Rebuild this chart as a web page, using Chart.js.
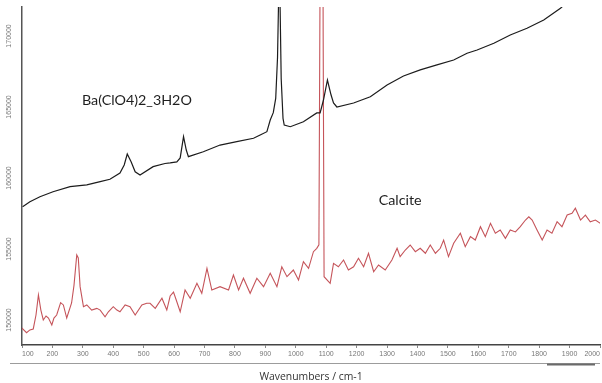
<!DOCTYPE html>
<html>
<head>
<meta charset="utf-8">
<script src="https://cdn.jsdelivr.net/npm/chart.js@4.4.1/dist/chart.umd.min.js"></script>
<style>
    html, body { margin: 0; padding: 0; background: #fff; }
    #wrap { width: 602px; height: 383px; }
</style>
</head>
<body>
<div id="wrap"><canvas id="ramanChart" width="602" height="383"></canvas></div>
<script>
// Ba(ClO4)2 . 3H2O spectrum
const baWave = [
    102, 126, 159, 202, 258, 313, 357, 389, 422, 436,
    446, 459, 472, 488, 531, 570, 587, 609, 620, 631,
    640, 647, 696, 751, 806, 861, 883, 905, 916, 926,
    934, 940, 946, 952, 958, 962, 982, 1025, 1069, 1080,
    1091, 1104, 1116, 1124, 1135, 1190, 1245, 1300, 1354, 1409,
    1464, 1519, 1563, 1596, 1651, 1705, 1760, 1815, 1870, 1919,
    2001
];
const baIntensity = [
    157980, 158330, 158680, 159030, 159390, 159510, 159740, 159910, 160350, 160920,
    161690, 161130, 160440, 160210, 160800, 161020, 161060, 161130, 161410, 162910,
    161970, 161500, 161850, 162320, 162560, 162800, 163030, 163260, 164080, 164600,
    165600, 168500, 175500, 167000, 164200, 163730, 163610, 163960, 164580, 164580,
    165490, 166900, 165840, 165280, 165000, 165280, 165720, 166550, 167180, 167610,
    167960, 168310, 168780, 169010, 169490, 170070, 170540, 171130, 171950, 172890,
    173940
];

// Calcite spectrum
const calWave = [
    99, 115, 126, 137, 146, 154, 162, 170, 179, 187,
    198, 205, 214, 227, 236, 247, 263, 271, 280, 285,
    291, 302, 313, 329, 346, 357, 373, 384, 400, 412,
    422, 439, 455, 472, 494, 510, 521, 538, 560, 576,
    587, 598, 607, 620, 636, 653, 675, 691, 708, 724,
    751, 779, 795, 812, 828, 850, 872, 894, 916, 938,
    954, 971, 992, 1009, 1025, 1042, 1058, 1069, 1076, 1080,
    1083, 1087, 1090, 1093, 1113, 1124, 1140, 1157, 1173, 1190,
    1206, 1223, 1239, 1256, 1272, 1294, 1316, 1333, 1343, 1360,
    1376, 1393, 1409, 1426, 1442, 1459, 1475, 1486, 1502, 1519,
    1541, 1557, 1574, 1590, 1607, 1623, 1640, 1656, 1672, 1689,
    1705, 1722, 1738, 1755, 1766, 1777, 1793, 1810, 1826, 1842,
    1859, 1875, 1892, 1908, 1919, 1936, 1952, 1968, 1985, 2001
];
const calIntensity = [
    149440, 149110, 149300, 149370, 150350, 151760, 150700, 150000, 150280, 150140,
    149650, 150140, 150350, 151220, 151060, 150140, 151200, 152460, 154580, 154370,
    152350, 150940, 151060, 150700, 150820, 150700, 150230, 150580, 150940, 150700,
    150580, 151060, 150940, 150350, 151060, 151180, 151180, 150820, 151530, 150700,
    151690, 151970, 151410, 150580, 152110, 151530, 152580, 151880, 153640, 152110,
    152350, 152110, 153170, 152110, 152940, 151880, 152940, 152350, 153290, 152350,
    153750, 153050, 153520, 152820, 154110, 153640, 154810, 155050, 155300, 175000,
    198000, 197000, 170000, 153050, 152580, 153990, 153750, 154230, 153520, 153750,
    154350, 153750, 154700, 153400, 153870, 153520, 154230, 155050, 154460, 154930,
    155280, 154810, 155050, 154700, 155280, 154700, 155050, 155630, 154460, 155400,
    156110, 155160, 155870, 155630, 156570, 155870, 156810, 156110, 156340, 155750,
    156340, 156200, 156570, 157040, 157270, 157040, 156340, 155630, 156340, 156110,
    156920, 156570, 157390, 157510, 157870, 157040, 157390, 156920, 157040, 156810
];

// Axis range and ticks
const xMin = 100, xMax = 2000;
const xTicks = [100, 200, 300, 400, 500, 600, 700, 800, 900, 1000,
    1100, 1200, 1300, 1400, 1500, 1600, 1700, 1800, 1900, 2000];
const yMin = 148240, yMax = 172040;
const yTicks = [150000, 155000, 160000, 165000, 170000];

// In-plot labels, anchored in data units
const seriesLabels = [
    { text: 'Ba(ClO4)2_3H2O', x: 297, y: 165490, align: 'left' },
    { text: 'Calcite', x: 1343, y: 158450, align: 'center' }
];

const toPoints = (xs, ys) => xs.map((x, i) => ({ x: x, y: ys[i] }));
const fixedTicks = values => scale => { scale.ticks = values.map(v => ({ value: v })); };

// Draw the text labels and the thin rule under the tick labels
const extras = {
    id: 'extras',
    afterDraw(chart) {
        const { ctx, scales: { x, y } } = chart;
        ctx.save();
        ctx.fillStyle = '#1e1e1e';
        ctx.font = '14.3px Lato';
        ctx.textBaseline = 'middle';
        seriesLabels.forEach(l => {
            ctx.textAlign = l.align;
            ctx.fillText(l.text, x.getPixelForValue(l.x), y.getPixelForValue(l.y));
        });

        const ruleY = Math.round(x.top + 18) + 0.5;
        ctx.strokeStyle = '#9c9c9c';
        ctx.lineWidth = 1;
        ctx.beginPath();
        ctx.moveTo(10, ruleY);
        ctx.lineTo(x.right, ruleY);
        ctx.stroke();
        ctx.strokeStyle = '#6a6a6a';
        ctx.lineWidth = 2;
        ctx.beginPath();
        ctx.moveTo(x.right - 53, ruleY + 1);
        ctx.lineTo(x.right - 5, ruleY + 1);
        ctx.stroke();
        ctx.restore();
    }
};

new Chart(document.getElementById('ramanChart'), {
    type: 'line',
    data: {
        datasets: [{
            label: 'Ba(ClO4)2_3H2O',
            data: toPoints(baWave, baIntensity),
            borderColor: '#1c1c1c',
            borderWidth: 1.2,
            pointRadius: 0,
            tension: 0
        }, {
            label: 'Calcite',
            data: toPoints(calWave, calIntensity),
            borderColor: '#c5545a',
            borderWidth: 1.1,
            pointRadius: 0,
            tension: 0
        }]
    },
    options: {
        responsive: false,
        animation: false,
        devicePixelRatio: 1,
        layout: { padding: { top: 7, right: 2, left: 0, bottom: 0 } },
        plugins: {
            legend: { display: false },
            tooltip: { enabled: false }
        },
        scales: {
            x: {
                type: 'linear',
                min: xMin,
                max: xMax,
                afterBuildTicks: fixedTicks(xTicks),
                grid: { display: true, drawOnChartArea: false, tickLength: 3, color: '#888' },
                border: { color: '#444', width: 1.5 },
                ticks: {
                    align: 'inner',
                    autoSkip: false,
                    maxRotation: 0,
                    padding: 2,
                    color: '#777',
                    font: { family: 'Liberation Sans', size: 7 },
                    callback: v => String(v)
                },
                title: {
                    display: true,
                    text: 'Wavenumbers / cm-1',
                    color: '#333',
                    font: { family: 'Open Sans', size: 10.4 },
                    padding: 0
                },
                afterFit: s => { s.height = 38; }
            },
            y: {
                min: yMin,
                max: yMax,
                afterBuildTicks: fixedTicks(yTicks),
                grid: { display: false, drawTicks: false },
                border: { color: '#555', width: 1.5 },
                ticks: {
                    minRotation: 90,
                    maxRotation: 90,
                    crossAlign: 'center',
                    padding: 1,
                    color: '#777',
                    font: { family: 'Liberation Sans', size: 7 },
                    callback: v => String(v)
                },
                afterFit: s => { s.width = 22; }
            }
        }
    },
    plugins: [extras]
});
</script>
</body>
</html>
